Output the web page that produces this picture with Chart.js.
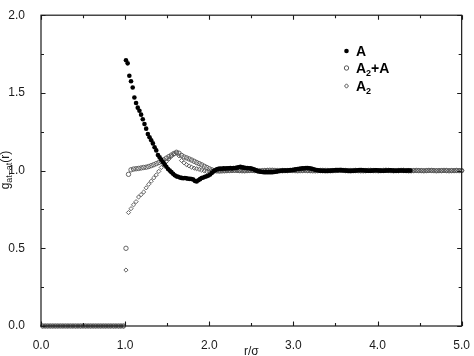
<!DOCTYPE html>
<html><head><meta charset="utf-8">
<script src="https://cdn.jsdelivr.net/npm/chart.js@4.4.1/dist/chart.umd.min.js"></script>
<style>html,body{margin:0;padding:0;background:#fff}#wrap{width:474px;height:356px;position:relative}</style>
</head><body><div id="wrap"><canvas id="c"></canvas></div>
<script>
// ---- data ----
const xTickLabels = ['0.0','1.0','2.0','3.0','4.0','5.0'];
const yTickLabels = ['0.0','0.5','1.0','1.5','2.0'];
const seriesNames = ['A','A2+A','A2'];

// r positions of the "A" series
const rA = [1.01,1.03,1.05,1.07,1.09,1.11,1.13,1.15,1.17,1.19,
1.21,1.23,1.25,1.27,1.29,1.31,1.33,1.35,1.37,1.39,
1.41,1.43,1.45,1.47,1.49,1.51,1.53,1.55,1.57,1.59,
1.61,1.63,1.65,1.67,1.69,1.71,1.73,1.75,1.77,1.79,
1.81,1.83,1.85,1.87,1.89,1.91,1.93,1.95,1.97,1.99,
2.01,2.03,2.05,2.07,2.09,2.11,2.13,2.15,2.17,2.19,
2.21,2.23,2.25,2.27,2.29,2.31,2.33,2.35,2.37,2.39,
2.41,2.43,2.45,2.47,2.49,2.51,2.53,2.55,2.57,2.59,
2.61,2.63,2.65,2.67,2.69,2.71,2.73,2.75,2.77,2.79,
2.81,2.83,2.85,2.87,2.89,2.91,2.93,2.95,2.97,2.99,
3.01,3.03,3.05,3.07,3.09,3.11,3.13,3.15,3.17,3.19,
3.21,3.23,3.25,3.27,3.29,3.31,3.33,3.35,3.37,3.39,
3.41,3.43,3.45,3.47,3.49,3.51,3.53,3.55,3.57,3.59,
3.61,3.63,3.65,3.67,3.69,3.71,3.73,3.75,3.77,3.79,
3.81,3.83,3.85,3.87,3.89,3.91,3.93,3.95,3.97,3.99,
4.01,4.03,4.05,4.07,4.09,4.11,4.13,4.15,4.17,4.19,
4.21,4.23,4.25,4.27,4.29,4.31,4.33,4.35,4.37,4.39];
const gA = [1.71,1.69,1.61,1.575,1.535,1.47,1.435,1.405,1.385,1.36,
1.33,1.30,1.27,1.235,1.215,1.195,1.175,1.15,1.13,1.10,
1.085,1.07,1.055,1.04,1.025,1.01,1.00,0.99,0.98,0.97,
0.963,0.96,0.956,0.953,0.951,0.952,0.95,0.948,0.947,0.946,
0.942,0.933,0.93,0.938,0.945,0.952,0.956,0.96,0.964,0.968,
0.975,0.985,0.995,1.002,1.008,1.011,1.013,1.012,1.014,1.013,
1.015,1.014,1.016,1.014,1.017,1.016,1.019,1.022,1.024,1.021,
1.019,1.017,1.016,1.015,1.014,1.012,1.008,1.003,0.998,0.995,
0.993,0.991,0.99,0.99,0.989,0.99,0.989,0.99,0.991,0.993,
0.995,0.997,0.999,1.0,1.001,1.0,1.001,1.002,1.003,1.004,
1.006,1.008,1.01,1.012,1.013,1.014,1.015,1.016,1.016,1.015,
1.013,1.01,1.007,1.004,1.002,1.0,0.999,0.998,0.998,0.997,
0.998,0.999,1.0,1.001,1.002,1.003,1.003,1.004,1.003,1.002,
1.001,1.0,0.999,0.998,0.998,0.999,1.0,1.001,1.002,1.003,
1.003,1.002,1.001,1.0,0.999,0.999,1.0,1.001,1.002,1.002,
1.001,1.0,0.999,0.999,1.0,1.001,1.001,1.002,1.001,1.0,
0.999,0.999,1.0,1.001,1.001,1.0,0.999,1.0,1.001,1.0];

// r positions shared by the "A2+A" and "A2" series
const rBins = [0.02,0.05,0.08,0.11,0.14,0.17,0.20,0.23,0.26,0.29,0.32,0.35,0.38,0.41,0.44,0.47,0.50,
0.53,0.56,0.59,0.62,0.65,0.68,0.71,0.74,0.77,0.80,0.83,0.86,0.89,0.92,0.95,0.98,
1.01,1.04,1.07,1.10,1.13,1.16,1.19,1.22,1.25,1.28,1.31,1.34,1.37,1.40,1.43,1.46,1.49,1.52,1.55,1.58,
1.61,1.64,1.67,1.70,1.73,1.76,1.79,1.82,1.85,1.88,1.91,1.94,1.97,2.00,
2.03,2.06,2.09,2.12,2.15,2.18,2.21,2.24,2.27,2.30,2.33,2.36,2.39,2.42,2.45,2.48,2.51,2.54,2.57,2.60,
2.63,2.66,2.69,2.72,2.75,2.78,2.81,2.84,2.87,2.90,2.93,2.96,2.99,
3.02,3.05,3.08,3.11,3.14,3.17,3.20,3.23,3.26,3.29,3.32,3.35,3.38,3.41,3.44,3.47,3.50,3.53,3.56,3.59,
3.62,3.65,3.68,3.71,3.74,3.77,3.80,3.83,3.86,3.89,3.92,3.95,3.98,
4.01,4.04,4.07,4.10,4.13,4.16,4.19,4.22,4.25,4.28,4.31,4.34,4.37,4.40,4.43,4.46,4.49,4.52,4.55,4.58,
4.61,4.64,4.67,4.70,4.73,4.76,4.79,4.82,4.85,4.88,4.91,4.94,4.97,5.00];

const gA2A = [0,0,0,0,0,0,0,0,0,0,0,0,0,0,0,0,0,0,0,0,0,0,0,0,0,0,0,0,0,0,0,0,0,
0.50,0.976,1.005,1.010,1.012,1.014,1.017,1.020,1.022,1.026,
1.032,1.038,1.045,1.052,1.060,1.070,1.080,1.090,1.100,1.110,
1.118,1.112,1.098,1.088,1.082,1.075,1.068,1.060,1.052,1.045,
1.037,1.028,1.020,1.012,1.005,1.000,0.998,0.997,0.998,0.999,
1.000,1.001,1.001,1.002,1.001,1.000,0.999,0.999,1.000,1.001,
1.001,1.000,0.999,0.998,0.999,1.000,1.001,1.002,1.002,1.001,
1.000,0.999,0.999,1.000,1.000,1.001,1.001,1.000,0.999,1.000,
1.001,1.002,1.001,1.000,0.999,0.999,1.000,1.001,1.001,1.000,
1.000,0.999,1.000,1.001,1.001,1.002,1.001,1.000,0.999,1.000,
1.000,1.001,1.000,0.999,0.999,1.000,1.001,1.001,1.000,1.000,
0.999,1.000,1.001,1.002,1.001,1.000,0.999,1.000,1.000,1.001,
1.001,1.000,0.999,0.999,1.000,1.001,1.000,1.000,0.999,1.000,
1.001,1.001,1.000,0.999,1.000,1.000,1.001,1.000,0.999,1.000,
1.000,1.001,1.000,1.000];

const gA2 = [0,0,0,0,0,0,0,0,0,0,0,0,0,0,0,0,0,0,0,0,0,0,0,0,0,0,0,0,0,0,0,0,0,
0.36,0.73,0.755,0.78,0.80,0.83,0.845,0.862,0.889,0.912,
0.932,0.953,0.972,0.995,1.02,1.04,1.058,1.075,1.092,1.105,
1.113,1.095,1.065,1.05,1.038,1.03,1.022,1.016,1.012,1.008,
1.003,0.998,0.994,0.995,0.997,0.999,1.0,1.001,1.0,0.999,
0.999,1.000,1.000,1.001,1.002,1.001,1.000,0.999,1.000,1.000,
1.001,1.001,1.000,0.999,1.000,1.001,1.001,1.000,1.000,0.999,
1.000,1.001,1.002,1.001,1.000,0.999,0.999,1.000,1.001,1.001,
1.000,1.000,0.999,1.000,1.001,1.000,1.000,0.999,1.000,1.001,
1.002,1.001,1.000,0.999,1.000,1.000,1.001,1.001,1.000,0.999,
1.000,1.000,1.001,1.001,1.000,0.999,1.000,1.001,1.000,1.000,
0.999,0.999,1.000,1.001,1.001,1.000,1.000,0.999,1.000,1.001,
1.001,1.000,1.000,0.999,1.000,1.000,1.001,1.000,0.999,1.000,
1.000,1.001,1.001,1.000,0.999,1.000,1.000,1.001,1.000,1.000,
0.999,1.000,1.000,1.000];

// ---- chart ----
const pts = (xs, ys) => xs.map((x, i) => ({x: x, y: ys[i]}));
const FONT = '"Liberation Sans", Arial, Helvetica, sans-serif';
const INK = '#1a1a1a';

const framePlugin = {
  id: 'frame',
  afterDraw(chart) {
    const ctx = chart.ctx, a = chart.chartArea;
    const xs = chart.scales.x, ys = chart.scales.y;
    ctx.save();
    ctx.strokeStyle = INK;
    ctx.lineWidth = 1.2;
    ctx.strokeRect(a.left, a.top, a.right - a.left, a.bottom - a.top);
    ctx.lineWidth = 1.1;
    ctx.beginPath();
    for (let v = 0; v <= 5.0001; v += 0.5) {
      const px = Math.round(xs.getPixelForValue(v)) + 0.5;
      const len = (Math.abs(v - Math.round(v)) < 1e-6) ? 4.5 : 3;
      ctx.moveTo(px, a.bottom); ctx.lineTo(px, a.bottom - len);
      ctx.moveTo(px, a.top); ctx.lineTo(px, a.top + len);
    }
    for (let v = 0; v <= 2.0001; v += 0.25) {
      const py = Math.round(ys.getPixelForValue(v)) + 0.5;
      const len = (Math.abs(v * 2 - Math.round(v * 2)) < 1e-6) ? 4.5 : 3;
      ctx.moveTo(a.left, py); ctx.lineTo(a.left + len, py);
      ctx.moveTo(a.right, py); ctx.lineTo(a.right - len, py);
    }
    ctx.stroke();

    // x axis title
    ctx.fillStyle = INK;
    ctx.font = '12px ' + FONT;
    ctx.textAlign = 'center';
    ctx.textBaseline = 'alphabetic';
    ctx.fillText('r/σ', (a.left + a.right) / 2, 355);

    // y axis title g_{at-at}(r)
    ctx.save();
    ctx.translate(5, 170);
    ctx.rotate(-Math.PI / 2);
    ctx.textAlign = 'left';
    ctx.textBaseline = 'alphabetic';
    const big = '12px ' + FONT, small = '9px ' + FONT;
    ctx.font = big; const w1 = ctx.measureText('g').width;
    ctx.font = small; const w2 = ctx.measureText('at\u2013at').width;
    ctx.font = big; const w3 = ctx.measureText('(r)').width;
    let x0 = -(w1 + w2 + w3) / 2;
    const base = 4;
    ctx.font = big; ctx.fillText('g', x0, base); x0 += w1;
    ctx.font = small; ctx.fillText('at\u2013at', x0, base + 3); x0 += w2;
    ctx.font = big; ctx.fillText('(r)', x0, base);
    ctx.restore();

    // legend
    const rows = [51, 68, 86];
    const mx = 346.5, tx = 356;
    ctx.fillStyle = '#000';
    ctx.beginPath(); ctx.arc(mx, rows[0], 2.3, 0, Math.PI * 2); ctx.fill();
    ctx.strokeStyle = '#444'; ctx.lineWidth = 0.9;
    ctx.beginPath(); ctx.arc(mx, rows[1], 2.2, 0, Math.PI * 2); ctx.stroke();
    ctx.beginPath();
    ctx.moveTo(mx, rows[2] - 2.2); ctx.lineTo(mx + 2.0, rows[2]);
    ctx.lineTo(mx, rows[2] + 2.2); ctx.lineTo(mx - 2.0, rows[2]); ctx.closePath(); ctx.stroke();
    ctx.fillStyle = '#000';
    ctx.textAlign = 'left';
    ctx.textBaseline = 'alphabetic';
    const lb = 'bold 14px ' + FONT, ls = 'bold 9px ' + FONT;
    const drawLabel = (name, y) => {
      let x = tx;
      const parts = name.split('2');
      ctx.font = lb; ctx.fillText(parts[0], x, y); x += ctx.measureText(parts[0]).width;
      if (parts.length > 1) {
        ctx.font = ls; ctx.fillText('2', x, y + 3); x += ctx.measureText('2').width;
        ctx.font = lb; ctx.fillText(parts[1], x, y);
      }
    };
    drawLabel(seriesNames[0], rows[0] + 5);
    drawLabel(seriesNames[1], rows[1] + 5);
    drawLabel(seriesNames[2], rows[2] + 5);
    ctx.restore();
  }
};

new Chart(document.getElementById('c'), {
  type: 'scatter',
  data: {
    datasets: [
      {label: seriesNames[0], data: pts(rA, gA), pointStyle: 'circle', pointRadius: 2.3,
       backgroundColor: '#000', borderColor: '#000', borderWidth: 0, clip: false},
      {label: seriesNames[1], data: pts(rBins, gA2A), pointStyle: 'circle', pointRadius: 2.2,
       backgroundColor: 'rgba(0,0,0,0)', borderColor: '#555', borderWidth: 0.9, clip: false},
      {label: seriesNames[2], data: pts(rBins, gA2), pointStyle: 'rectRot', pointRadius: 2.1,
       backgroundColor: 'rgba(0,0,0,0)', borderColor: '#555', borderWidth: 0.9, clip: false}
    ]
  },
  options: {
    responsive: true, maintainAspectRatio: false, animation: false, devicePixelRatio: 1,
    layout: {padding: {left: 0, top: 4, right: 10, bottom: 0}, autoPadding: false},
    plugins: {legend: {display: false}, tooltip: {enabled: false}},
    scales: {
      x: {type: 'linear', min: 0, max: 5,
          afterFit: s => { s.height = 30; },
          grid: {display: false}, border: {display: false},
          ticks: {stepSize: 1, padding: 4, maxRotation: 0, color: INK,
                  font: {family: FONT, size: 12},
                  callback: (v) => xTickLabels[Math.round(v)]}},
      y: {type: 'linear', min: 0, max: 2,
          afterFit: s => { s.width = 41; },
          grid: {display: false}, border: {display: false},
          ticks: {stepSize: 0.5, padding: 8, color: INK,
                  font: {family: FONT, size: 12},
                  callback: (v) => yTickLabels[Math.round(v * 2)]}}
    }
  },
  plugins: [framePlugin]
});
</script>
</body></html>
